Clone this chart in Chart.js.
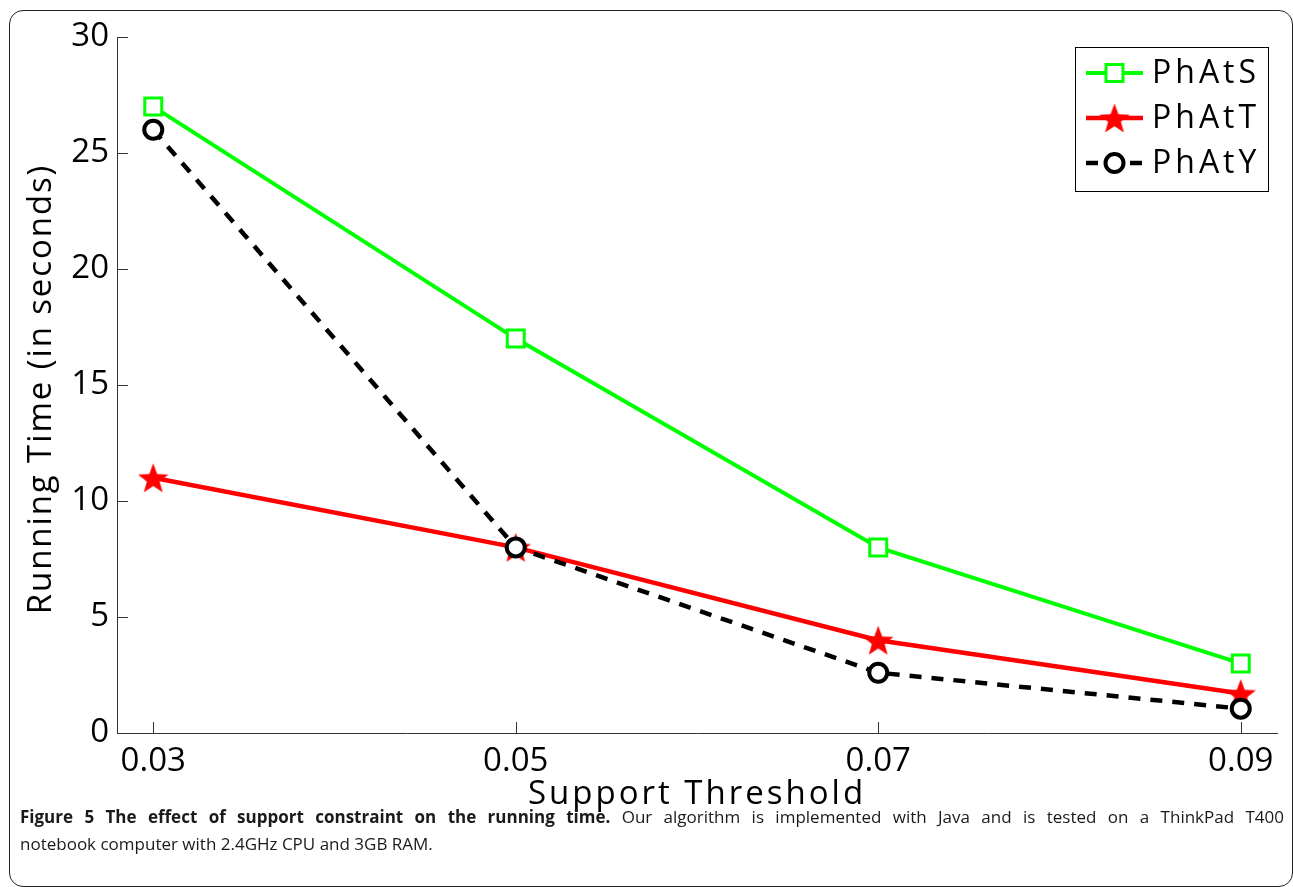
<!DOCTYPE html>
<html lang="en">
<head>
  <meta charset="utf-8">
  <script src="https://cdn.jsdelivr.net/npm/chart.js@4.4.0/dist/chart.umd.min.js"></script>
  <style>
    html, body {
      margin: 0;
      padding: 0;
      background: #fff;
    }

    body {
      width: 1293px;
      height: 887px;
      position: relative;
      overflow: hidden;
      font-family: "Open Sans", sans-serif;
    }

    #frame {
      position: absolute;
      left: 9px;
      top: 10px;
      width: 1284px;
      height: 877px;
      border: 1.5px solid #222;
      border-radius: 14px;
      box-sizing: border-box;
    }

    #chart-container {
      position: absolute;
      left: 0;
      top: 0;
      width: 1293px;
      height: 830px;
    }

    #caption {
      position: absolute;
      left: 20px;
      top: 803px;
      width: 1264px;
      font-size: 17px;
      line-height: 27px;
      color: #1a1a1a;
    }

    #caption .l1 {
      text-align: justify;
      text-align-last: justify;
    }
  </style>
</head>

<body>
  <div id="frame"></div>
  <div id="chart-container">
    <canvas id="chart"></canvas>
  </div>
  <div id="caption">
    <div class="l1"><b>Figure 5 The effect of support constraint on the running time.</b> Our algorithm is implemented with Java and is tested on a ThinkPad T400</div>
    <div>notebook computer with 2.4GHz CPU and 3GB RAM.</div>
  </div>

  <script>
    // data
    const thresholds = [0.03, 0.05, 0.07, 0.09];
    const phatS = [27, 17, 8, 3];
    const phatT = [11, 8, 4, 1.7];
    const phatY = [26, 8, 2.6, 1.05];
    const seriesNames = ['PhAtS', 'PhAtT', 'PhAtY'];
    const yTicks = [0, 5, 10, 15, 20, 25, 30];
    const xTitle = 'Support Threshold';
    const yTitle = 'Running Time (in seconds)';

    const FONT = '"Open Sans", sans-serif';

    // filled five pointed star used as marker
    function makeStar(r, color) {
      const size = Math.ceil(r * 2) + 2;
      const c = document.createElement('canvas');
      c.width = size;
      c.height = size;
      const g = c.getContext('2d');
      const cx = size / 2, cy = size / 2 + r * 0.1;
      g.beginPath();
      for (let i = 0; i < 10; i++) {
        const rad = i % 2 === 0 ? r : r * 0.42;
        const a = -Math.PI / 2 + i * Math.PI / 5;
        g.lineTo(cx + rad * Math.cos(a), cy + rad * Math.sin(a));
      }
      g.closePath();
      g.fillStyle = color;
      g.fill();
      return c;
    }
    const starImg = makeStar(16, '#ff0000');

    function pts(ys) {
      return thresholds.map((x, i) => ({ x: x, y: ys[i] }));
    }

    function drawMarker(ctx, ds, x, y) {
      ctx.save();
      ctx.setLineDash([]);
      if (ds.pointStyle instanceof HTMLCanvasElement) {
        ctx.drawImage(ds.pointStyle, x - ds.pointStyle.width / 2, y - ds.pointStyle.height / 2);
      } else if (ds.pointStyle === 'rect') {
        const s = Math.SQRT1_2 * ds.pointRadius;
        ctx.fillStyle = ds.pointBackgroundColor;
        ctx.strokeStyle = ds.pointBorderColor;
        ctx.lineWidth = ds.pointBorderWidth;
        ctx.fillRect(x - s, y - s, 2 * s, 2 * s);
        ctx.strokeRect(x - s, y - s, 2 * s, 2 * s);
      } else {
        ctx.beginPath();
        ctx.arc(x, y, ds.pointRadius, 0, Math.PI * 2);
        ctx.fillStyle = ds.pointBackgroundColor;
        ctx.fill();
        ctx.strokeStyle = ds.pointBorderColor;
        ctx.lineWidth = ds.pointBorderWidth;
        ctx.stroke();
      }
      ctx.restore();
    }

    // inward tick marks, matlab style
    const inwardTicks = {
      id: 'inwardTicks',
      beforeDatasetsDraw(chart) {
        const { ctx, chartArea, scales } = chart;
        ctx.save();
        ctx.strokeStyle = '#333';
        ctx.lineWidth = 1;
        ctx.beginPath();
        scales.y.ticks.forEach(t => {
          const py = Math.round(scales.y.getPixelForValue(t.value)) + 0.5;
          ctx.moveTo(chartArea.left, py);
          ctx.lineTo(chartArea.left + 11, py);
        });
        scales.x.ticks.forEach(t => {
          const px = Math.round(scales.x.getPixelForValue(t.value)) + 0.5;
          ctx.moveTo(px, chartArea.bottom);
          ctx.lineTo(px, chartArea.bottom - 11);
        });
        ctx.stroke();
        ctx.restore();
      }
    };

    // axis titles and boxed legend
    const titlesAndLegend = {
      id: 'titlesAndLegend',
      afterDraw(chart) {
        const { ctx, chartArea } = chart;
        ctx.save();
        ctx.fillStyle = '#000';
        ctx.font = '33px ' + FONT;
        ctx.letterSpacing = '3px';
        ctx.textAlign = 'center';
        ctx.textBaseline = 'middle';
        ctx.fillText(xTitle, (chartArea.left + chartArea.right) / 2, chartArea.bottom + 62);
        ctx.translate(42, (chartArea.top + chartArea.bottom) / 2 + 4);
        ctx.rotate(-Math.PI / 2);
        ctx.letterSpacing = '1.9px';
        ctx.fillText(yTitle, 0, 0);
        ctx.restore();

        // legend
        const bw = 193, bh = 144;
        const bx = chartArea.right - 9 - bw;
        const by = chartArea.top + 10;
        ctx.save();
        ctx.fillStyle = '#fff';
        ctx.fillRect(bx, by, bw, bh);
        ctx.strokeStyle = '#000';
        ctx.lineWidth = 1;
        ctx.strokeRect(bx + 0.5, by + 0.5, bw, bh);
        ctx.font = '32px ' + FONT;
        ctx.letterSpacing = '4px';
        ctx.textBaseline = 'middle';
        ctx.textAlign = 'left';
        chart.data.datasets.forEach((ds, i) => {
          const ry = by + 26 + i * 45;
          const x0 = bx + 11, x1 = bx + 68;
          ctx.save();
          ctx.strokeStyle = ds.borderColor;
          ctx.lineWidth = ds.borderWidth;
          ctx.setLineDash(ds.borderDash || []);
          ctx.beginPath();
          ctx.moveTo(x0, ry);
          ctx.lineTo(x1, ry);
          ctx.stroke();
          ctx.restore();
          drawMarker(ctx, ds, (x0 + x1) / 2, ry);
          ctx.fillStyle = '#000';
          ctx.fillText(ds.label, bx + 77, ry + 1);
        });
        ctx.restore();
      }
    };

    const ctx = document.getElementById('chart').getContext('2d');
    new Chart(ctx, {
      type: 'line',
      data: {
        datasets: [{
          label: seriesNames[0],
          data: pts(phatS),
          borderColor: '#00ff00',
          borderWidth: 4,
          pointStyle: 'rect',
          pointRadius: 12,
          pointBorderWidth: 3,
          pointBorderColor: '#00ff00',
          pointBackgroundColor: '#fff',
          order: 3
        }, {
          label: seriesNames[1],
          data: pts(phatT),
          borderColor: '#ff0000',
          borderWidth: 4.5,
          pointStyle: starImg,
          pointRadius: 16,
          pointBorderWidth: 0,
          pointBorderColor: '#ff0000',
          pointBackgroundColor: '#ff0000',
          order: 2
        }, {
          label: seriesNames[2],
          data: pts(phatY),
          borderColor: '#000',
          borderWidth: 4.5,
          borderDash: [12, 10],
          pointStyle: 'circle',
          pointRadius: 9,
          pointBorderWidth: 4,
          pointBorderColor: '#000',
          pointBackgroundColor: '#fff',
          order: 1
        }]
      },
      options: {
        responsive: true,
        maintainAspectRatio: false,
        animation: false,
        layout: { padding: { left: 0, top: 37, right: 13, bottom: 0 } },
        plugins: {
          legend: { display: false },
          tooltip: { enabled: false }
        },
        scales: {
          x: {
            type: 'linear',
            min: 0.028,
            max: 0.092,
            afterBuildTicks: s => { s.ticks = thresholds.map(v => ({ value: v })); },
            afterFit: s => { s.height = 97; },
            grid: { display: false, drawTicks: false },
            border: { display: true, color: '#333', width: 1 },
            ticks: {
              padding: 9,
              color: '#000',
              font: { family: FONT, size: 33 },
              callback: v => v.toFixed(2)
            }
          },
          y: {
            min: 0,
            max: 30,
            afterBuildTicks: s => { s.ticks = yTicks.map(v => ({ value: v })); },
            afterFit: s => { s.width = 117; },
            grid: { display: false, drawTicks: false },
            border: { display: true, color: '#333', width: 1 },
            ticks: {
              padding: 8,
              color: '#000',
              font: { family: FONT, size: 33 }
            }
          }
        }
      },
      plugins: [inwardTicks, titlesAndLegend]
    });
  </script>
</body>

</html>
